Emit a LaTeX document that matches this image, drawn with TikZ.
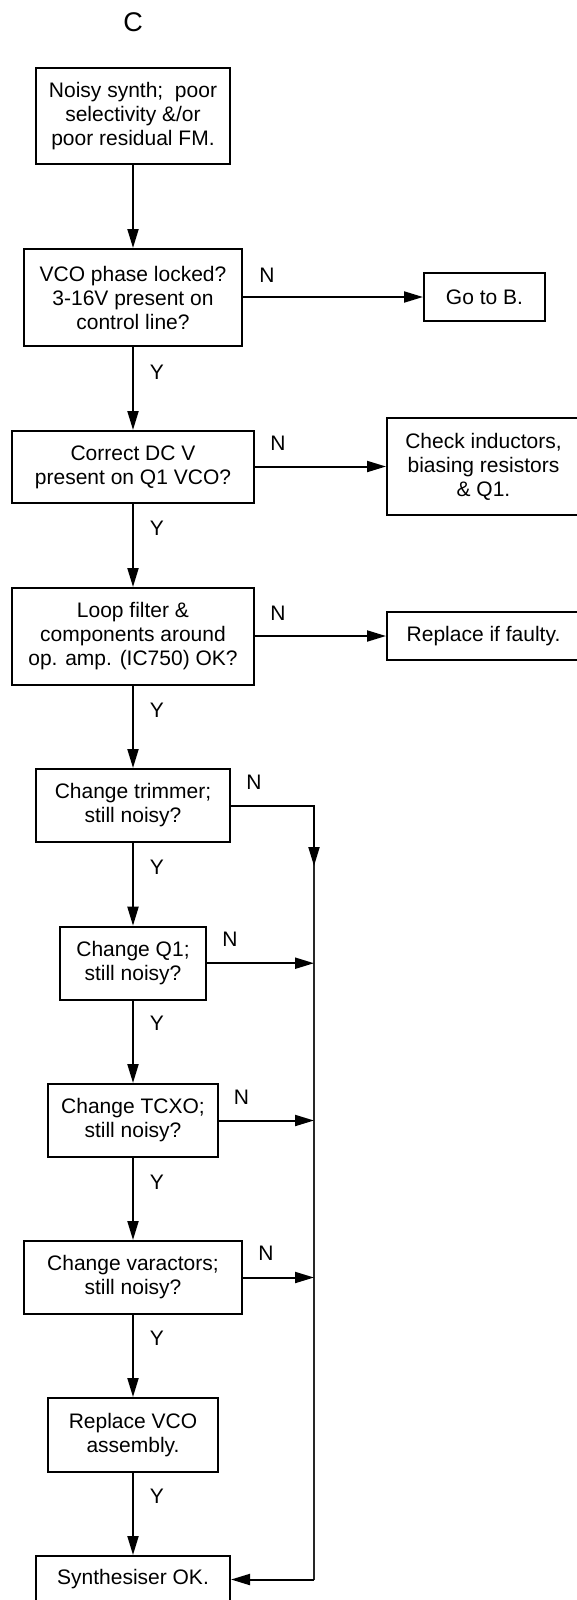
\documentclass[tikz,border=0pt]{standalone}
\usepackage{fontspec}
\setmainfont{Liberation Sans}
\usetikzlibrary{arrows.meta}
\begin{document}
\begin{tikzpicture}[x=1pt,y=-1pt,
  every node/.style={font=\fontsize{21}{24}\selectfont},
  box/.style={draw, line width=2pt, inner sep=0pt, align=center},
  lbl/.style={inner sep=0pt},
  conn/.style={line width=2pt, -{Triangle[length=19pt,width=11pt]}},
  plain/.style={line width=2pt},
  rail/.style={line width=1.6pt, black!85}
]
\useasboundingbox (0,0) rectangle (576,1600);
\fill[white] (0,0) rectangle (576,1600);

\node[lbl, font=\fontsize{27}{30}\selectfont] (title) at (133,22) {C};

\node[box, minimum width=194.5pt, minimum height=96pt] (b1) at (133,116)
  {Noisy synth;~ poor\\selectivity \&/or\\poor residual FM.};
\node[box, minimum width=218.5pt, minimum height=97pt] (b2) at (133,297.5)
  {VCO phase locked?\\3-16V present on\\control line?};
\node[box, minimum width=121pt, minimum height=48pt] (gob) at (484.5,297)
  {Go to B.};
\node[box, minimum width=242pt, minimum height=72pt] (b3) at (133,467)
  {Correct DC V\\present on Q1 VCO?};
\node[box, minimum width=193pt, minimum height=97pt] (chk) at (483.5,466.5)
  {Check inductors,\\biasing resistors\\\& Q1.};
\node[box, minimum width=242pt, minimum height=97pt] (b4) at (133,636.5)
  {Loop filter \&\\components around\\op. amp. (IC750) OK?};
\node[box, minimum width=193pt, minimum height=48pt] (rep) at (483.5,636)
  {Replace if faulty.};
\node[box, minimum width=194.5pt, minimum height=73pt] (b5) at (133,805.5)
  {Change trimmer;\\still noisy?};
\node[box, minimum width=145.5pt, minimum height=73pt] (b6) at (133,963.2)
  {Change Q1;\\still noisy?};
\node[box, minimum width=170pt, minimum height=73pt] (b7) at (133,1120.5)
  {Change TCXO;\\still noisy?};
\node[box, minimum width=218.5pt, minimum height=73pt] (b8) at (133,1277.5)
  {Change varactors;\\still noisy?};
\node[box, minimum width=170pt, minimum height=74pt] (b9) at (133,1435)
  {Replace VCO\\assembly.};
\node[box, minimum width=194pt, minimum height=47pt] (b10) at (133,1579.5)
  {Synthesiser OK.};

% main column
\draw[conn] (b1) -- (b2);
\draw[conn] (b2) -- (b3);
\draw[conn] (b3) -- (b4);
\draw[conn] (b4) -- (b5);
\draw[conn] (b5) -- (b6);
\draw[conn] (b6) -- (b7);
\draw[conn] (b7) -- (b8);
\draw[conn] (b8) -- (b9);
\draw[conn] (b9) -- (b10);

% side branches
\draw[conn] (b2.east |- gob.west) -- (gob.west);
\draw[conn] (b3.east |- chk.west) -- (chk.west);
\draw[conn] (b4.east |- rep.west) -- (rep.west);

% right rail
\coordinate (r5) at (314,805.5);
\coordinate (m5) at (314,866);
\coordinate (j6) at (314,963.2);
\coordinate (j7) at (314,1120.5);
\coordinate (j8) at (314,1277.5);
\coordinate (r10) at (314,1579.5);
\draw[rail] (r5) -- (r10);
\draw[plain, line cap=rect] (b5.east) -- (r5);
\draw[conn] (r5) -- (m5);
\draw[conn] (r10) -- (b10.east);
\draw[conn] (b6.east) -- (j6);
\draw[conn] (b7.east) -- (j7);
\draw[conn] (b8.east) -- (j8);

% labels
\node[lbl] (n2) at (267,275) {N};
\node[lbl] (y2) at (157,372) {Y};
\node[lbl] (n3) at (278,443) {N};
\node[lbl] (y3) at (157,528) {Y};
\node[lbl] (n4) at (278,613) {N};
\node[lbl] (y4) at (157,710) {Y};
\node[lbl] (n5) at (254,782) {N};
\node[lbl] (y5) at (157,867) {Y};
\node[lbl] (n6) at (230,939) {N};
\node[lbl] (y6) at (157,1023) {Y};
\node[lbl] (n7) at (241.5,1097) {N};
\node[lbl] (y7) at (157,1182) {Y};
\node[lbl] (n8) at (266,1253) {N};
\node[lbl] (y8) at (157,1338) {Y};
\node[lbl] (y9) at (157,1496) {Y};
\end{tikzpicture}
\end{document}
